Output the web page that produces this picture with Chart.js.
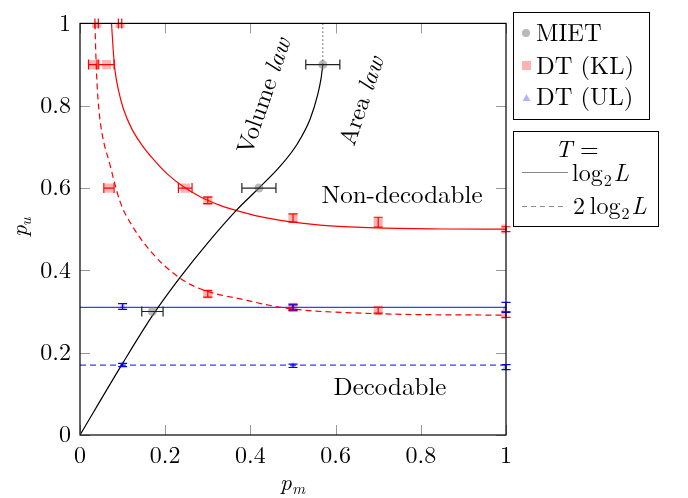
<!DOCTYPE html>
<html>
<head>
<meta charset="utf-8">
<script src="https://cdn.jsdelivr.net/npm/chart.js@4"></script>
<style>
  html, body { margin: 0; padding: 0; background: #fff; }
  #wrap { width: 688px; height: 498px; position: relative; }
</style>
</head>
<body>
<div id="wrap"><canvas id="myChart" width="688" height="498"></canvas></div>
<script>
// MIET points (horizontal error bars)
let mietPm = [0.17, 0.42, 0.57];
let mietPu = [0.3, 0.6, 0.9];
let mietErrX = [0.025, 0.04, 0.04];

// DT (KL) points
let klPm = [0.039, 0.094, 0.03, 0.062, 0.068, 0.247, 0.3, 0.5, 0.7, 1.0, 0.3, 0.5, 0.7, 1.0];
let klPu = [1.0, 1.0, 0.9, 0.9, 0.6, 0.6, 0.57, 0.527, 0.517, 0.5, 0.343, 0.31, 0.303, 0.293];
let klErrX = [0.004, 0.004, 0.01, 0.018, 0.012, 0.016, 0, 0, 0, 0, 0, 0, 0, 0];
let klErrY = [0, 0, 0, 0, 0, 0, 0.008, 0.01, 0.012, 0.006, 0.008, 0.008, 0.007, 0.007];

// DT (UL) points
let ulPm = [0.1, 0.5, 1.0, 0.1, 0.5, 1.0];
let ulPu = [0.312, 0.31, 0.31, 0.17, 0.168, 0.165];
let ulErrY = [0.007, 0.006, 0.012, 0.004, 0.004, 0.006];

// boundary curves
let volPm = [0, 0.1, 0.17, 0.235, 0.3, 0.368, 0.42, 0.47, 0.51, 0.54, 0.558, 0.566, 0.57];
let volPu = [0, 0.174, 0.29, 0.383, 0.467, 0.547, 0.6, 0.653, 0.707, 0.767, 0.827, 0.867, 0.9];
let klSolidPm = [0.074, 0.078, 0.082, 0.09, 0.102, 0.121, 0.145, 0.172, 0.204, 0.243, 0.282, 0.329, 0.368, 0.42, 0.5, 0.587, 0.7, 0.85, 1.0];
let klSolidPu = [1.0, 0.934, 0.887, 0.839, 0.792, 0.745, 0.705, 0.67, 0.635, 0.603, 0.579, 0.558, 0.545, 0.531, 0.517, 0.508, 0.503, 0.5005, 0.5];
let klDashPm = [0.035, 0.038, 0.042, 0.049, 0.07, 0.094, 0.118, 0.18, 0.259, 0.392, 0.493, 0.69, 1.0];
let klDashPu = [1.0, 0.9, 0.82, 0.75, 0.658, 0.567, 0.516, 0.43, 0.366, 0.327, 0.307, 0.295, 0.291];
let ulSolidPm = [0, 1];
let ulSolidPu = [0.31, 0.31];
let ulDashPm = [0, 1];
let ulDashPu = [0.17, 0.17];

let ticks = [0, 0.2, 0.4, 0.6, 0.8, 1];

const SERIF = '"Latin Modern Roman", "Liberation Serif", "DejaVu Serif", serif';

function pts(xs, ys){
    return xs.map((x, i) => ({x: x, y: ys[i]}));
}

function lineSet(xs, ys, color, dash){
    return {
        data: pts(xs, ys),
        showLine: true,
        borderColor: color,
        borderWidth: 1.2,
        borderDash: dash || [],
        pointRadius: 0,
        cubicInterpolationMode: 'monotone',
        order: 2
    };
}

// error bars + decorations
const decor = {
    id: 'decor',
    afterDatasetsDraw(chart){
        const c = chart.ctx, xs = chart.scales.x, ys = chart.scales.y;
        function bar(x0, y0, x1, y1, color, horiz){
            let px0 = xs.getPixelForValue(x0), py0 = ys.getPixelForValue(y0);
            let px1 = xs.getPixelForValue(x1), py1 = ys.getPixelForValue(y1);
            c.save();
            c.strokeStyle = color;
            c.lineWidth = 1.2;
            c.beginPath();
            c.moveTo(px0, py0); c.lineTo(px1, py1);
            if (horiz){
                c.moveTo(px0, py0 - 5); c.lineTo(px0, py0 + 5);
                c.moveTo(px1, py1 - 5); c.lineTo(px1, py1 + 5);
            } else {
                c.moveTo(px0 - 4.5, py0); c.lineTo(px0 + 4.5, py0);
                c.moveTo(px1 - 4.5, py1); c.lineTo(px1 + 4.5, py1);
            }
            c.stroke();
            c.restore();
        }
        for (let i = 0; i < klPm.length; i++){
            if (klErrX[i] > 0) bar(klPm[i] - klErrX[i], klPu[i], klPm[i] + klErrX[i], klPu[i], 'red', true);
            if (klErrY[i] > 0) bar(klPm[i], klPu[i] - klErrY[i], klPm[i], klPu[i] + klErrY[i], 'red', false);
        }
        for (let i = 0; i < ulPm.length; i++){
            bar(ulPm[i], ulPu[i] - ulErrY[i], ulPm[i], ulPu[i] + ulErrY[i], 'blue', false);
        }
        for (let i = 0; i < mietPm.length; i++){
            bar(mietPm[i] - mietErrX[i], mietPu[i], mietPm[i] + mietErrX[i], mietPu[i], '#222', true);
        }
    },
    afterDraw(chart){
        const c = chart.ctx, a = chart.chartArea, xs = chart.scales.x, ys = chart.scales.y;
        c.save();
        // inner tick marks
        c.strokeStyle = '#999';
        c.lineWidth = 1;
        c.beginPath();
        ticks.forEach(t => {
            let px = Math.round(xs.getPixelForValue(t)) + 0.5;
            let py = Math.round(ys.getPixelForValue(t)) + 0.5;
            c.moveTo(px, a.bottom); c.lineTo(px, a.bottom - 10);
            c.moveTo(px, a.top); c.lineTo(px, a.top + 10);
            c.moveTo(a.left, py); c.lineTo(a.left + 10, py);
            c.moveTo(a.right, py); c.lineTo(a.right - 10, py);
        });
        c.stroke();
        // frame
        c.strokeStyle = '#000';
        c.lineWidth = 1.2;
        c.strokeRect(a.left, a.top, a.right - a.left, a.bottom - a.top);

        // dotted line above last MIET point
        c.lineWidth = 1;
        c.setLineDash([1, 3]);
        c.beginPath();
        c.moveTo(xs.getPixelForValue(0.57), ys.getPixelForValue(0.9));
        c.lineTo(xs.getPixelForValue(0.57), ys.getPixelForValue(1));
        c.stroke();
        c.setLineDash([]);

        c.fillStyle = '#000';
        c.textBaseline = 'middle';
        // axis titles
        c.textAlign = 'left';
        c.font = 'italic 23px ' + SERIF;
        c.fillText('p', 280, 483);
        c.font = 'italic 16px ' + SERIF;
        c.fillText('m', 292, 489);
        c.save();
        c.translate(20, 229);
        c.rotate(-Math.PI / 2);
        c.font = 'italic 23px ' + SERIF;
        c.fillText('p', -8, 0);
        c.font = 'italic 16px ' + SERIF;
        c.fillText('u', 3, 6);
        c.restore();

        // region labels
        c.font = '25px ' + SERIF;
        c.textAlign = 'center';
        c.fillText('Non-decodable', 402, 195);
        c.fillText('Decodable', 390, 387);

        function rotLabel(x, y, ang, plain, ital){
            c.save();
            c.translate(x, y);
            c.rotate(ang);
            c.font = '24px ' + SERIF;
            let w1 = c.measureText(plain).width;
            c.font = 'italic 24px ' + SERIF;
            let w2 = c.measureText(ital).width;
            let x0 = -(w1 + w2) / 2;
            c.textAlign = 'left';
            c.font = '24px ' + SERIF;
            c.fillText(plain, x0, 0);
            c.font = 'italic 24px ' + SERIF;
            c.fillText(ital, x0 + w1, 0);
            c.restore();
        }
        rotLabel(264, 96, -71 * Math.PI / 180, 'Volume ', 'law');
        rotLabel(362, 101, -71 * Math.PI / 180, 'Area ', 'law');

        // legend 1
        c.lineWidth = 1;
        c.strokeStyle = '#000';
        c.strokeRect(513.5, 12.5, 136, 107);
        c.textAlign = 'left';
        c.font = '24.5px ' + SERIF;
        c.fillStyle = 'rgba(128,128,128,0.55)';
        c.beginPath(); c.arc(526, 33, 4, 0, Math.PI * 2); c.fill();
        c.fillStyle = 'rgba(255,0,0,0.3)';
        c.fillRect(522, 61, 9, 9);
        c.fillStyle = 'rgba(0,0,255,0.3)';
        c.beginPath(); c.moveTo(526.5, 94); c.lineTo(530.5, 101); c.lineTo(522.5, 101); c.closePath(); c.fill();
        c.fillStyle = '#000';
        c.fillText('MIET', 536, 33);
        c.fillText('DT (KL)', 536, 66);
        c.fillText('DT (UL)', 536, 97);

        // legend 2
        c.strokeRect(513.5, 131.5, 145, 95);
        c.font = 'italic 24px ' + SERIF;
        c.fillText('T', 555, 150);
        c.font = '24px ' + SERIF;
        c.fillText('=', 580, 150);
        c.strokeStyle = '#888';
        c.beginPath(); c.moveTo(522, 172.5); c.lineTo(568, 172.5); c.stroke();
        c.setLineDash([5, 4]);
        c.beginPath(); c.moveTo(522, 206.5); c.lineTo(565, 206.5); c.stroke();
        c.setLineDash([]);
        function logTxt(x, y, pre){
            c.font = '24px ' + SERIF;
            c.fillText(pre + 'log', x, y);
            let w = c.measureText(pre + 'log').width;
            c.font = '16px ' + SERIF;
            c.fillText('2', x + w + 1, y + 7);
            c.font = 'italic 24px ' + SERIF;
            c.fillText('L', x + w + 11, y);
        }
        logTxt(572, 174, '');
        logTxt(573, 207, '2\u2009');
        c.restore();
    }
};

const ctx = document.getElementById('myChart');

let myChart = new Chart(ctx, {
    type: 'scatter',
    data: {
        datasets: [
            lineSet(volPm, volPu, '#000'),
            lineSet(klSolidPm, klSolidPu, 'red'),
            lineSet(klDashPm, klDashPu, 'red', [6, 4]),
            lineSet(ulSolidPm, ulSolidPu, 'rgb(60,60,255)'),
            lineSet(ulDashPm, ulDashPu, 'rgb(60,60,255)', [6, 4]),
            {
                data: pts(mietPm, mietPu),
                pointStyle: 'circle',
                pointRadius: 4.5,
                backgroundColor: 'rgba(128,128,128,0.55)',
                borderWidth: 0,
                order: 1
            },
            {
                data: pts(klPm, klPu),
                pointStyle: 'rect',
                pointRadius: 6.5,
                backgroundColor: 'rgba(255,0,0,0.3)',
                borderWidth: 0,
                order: 1
            },
            {
                data: pts(ulPm, ulPu),
                pointStyle: 'triangle',
                pointRadius: 4,
                backgroundColor: 'rgba(0,0,255,0.3)',
                borderWidth: 0,
                order: 1
            }
        ]
    },
    options: {
        responsive: false,
        animation: false,
        layout: { padding: { left: 0, right: 182, top: 12, bottom: 0 } },
        plugins: {
            legend: { display: false },
            tooltip: { enabled: false }
        },
        scales: {
            x: {
                type: 'linear',
                min: 0, max: 1,
                afterFit(s){ s.height = 63; },
                afterBuildTicks(s){ s.ticks = ticks.map(v => ({value: v})); },
                grid: { display: false, drawTicks: false },
                border: { display: false },
                ticks: {
                    color: '#000',
                    padding: 6,
                    maxRotation: 0,
                    font: { family: SERIF, size: 24 },
                    callback: v => String(Number(v.toFixed(1)))
                }
            },
            y: {
                type: 'linear',
                min: 0, max: 1,
                afterFit(s){ s.width = 80; },
                afterBuildTicks(s){ s.ticks = ticks.map(v => ({value: v})); },
                grid: { display: false, drawTicks: false },
                border: { display: false },
                ticks: {
                    color: '#000',
                    padding: 9,
                    font: { family: SERIF, size: 24 },
                    callback: v => String(Number(v.toFixed(1)))
                }
            }
        }
    },
    plugins: [decor]
});
</script>
</body>
</html>
